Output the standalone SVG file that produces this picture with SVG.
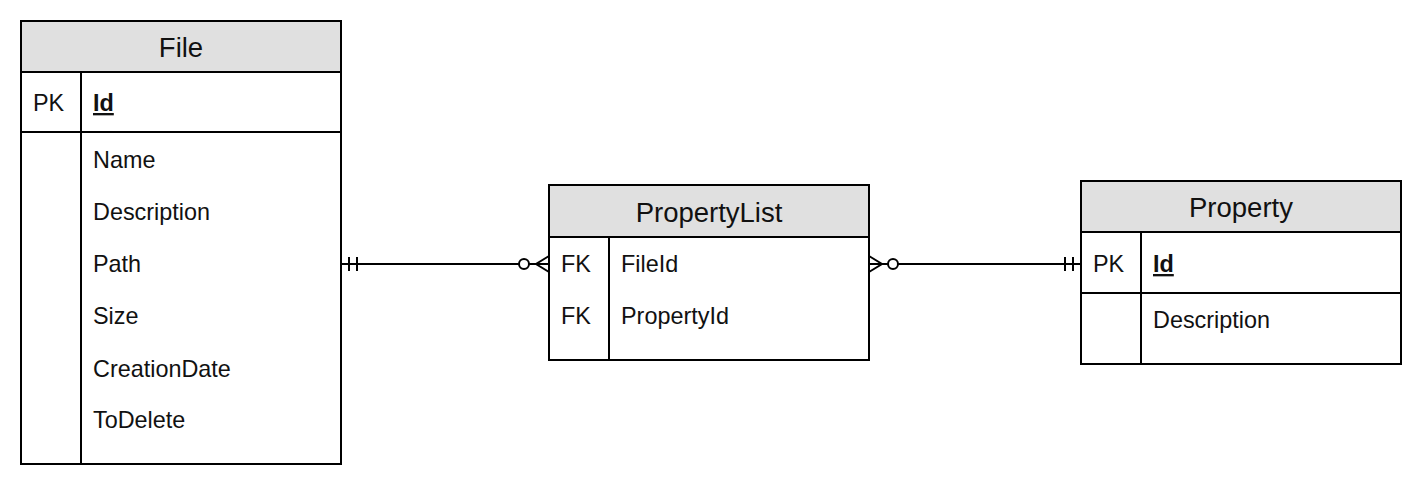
<svg xmlns="http://www.w3.org/2000/svg" width="1422" height="486" viewBox="0 0 1422 486">
<style>
.box{fill:#fff;stroke:#000;stroke-width:2}
.hdr{fill:#e0e0e0;stroke:#000;stroke-width:2}
.ln{stroke:#000;stroke-width:2;fill:none}
.ht{font-family:"Liberation Sans",Arial,sans-serif;font-size:27.5px;fill:#111;text-anchor:middle}
.t{font-family:"Liberation Sans",Arial,sans-serif;font-size:23.4px;fill:#111}
.k{font-weight:bold;text-decoration:underline}
.circ{fill:#fff;stroke:#000;stroke-width:2}
</style>
<rect width="1422" height="486" fill="#fff"/>
<g id="connectors">
  <g id="file-propertylist">
    <line class="ln" x1="341" y1="264" x2="549" y2="264"/>
    <line class="ln" x1="349" y1="257" x2="349" y2="271"/>
    <line class="ln" x1="357" y1="257" x2="357" y2="271"/>
    <circle class="circ" cx="524" cy="264" r="5"/>
    <polyline class="ln" points="549,256 536,264 549,272"/>
  </g>
  <g id="propertylist-property">
    <line class="ln" x1="869" y1="264" x2="1081" y2="264"/>
    <polyline class="ln" points="869,256 882,264 869,272"/>
    <circle class="circ" cx="893" cy="264" r="5"/>
    <line class="ln" x1="1065" y1="257" x2="1065" y2="271"/>
    <line class="ln" x1="1073" y1="257" x2="1073" y2="271"/>
  </g>
</g>
<g id="file">
  <rect class="box" x="21" y="21" width="320" height="443"/>
  <rect class="hdr" x="21" y="21" width="320" height="51"/>
  <line class="ln" x1="21" y1="132" x2="341" y2="132"/>
  <line class="ln" x1="81" y1="72" x2="81" y2="464"/>
  <text class="ht" x="181" y="57">File</text>
  <text class="t" x="33" y="111">PK</text>
  <text class="t k" x="93" y="111">Id</text>
  <text class="t" x="93" y="168">Name</text>
  <text class="t" x="93" y="220">Description</text>
  <text class="t" x="93" y="272">Path</text>
  <text class="t" x="93" y="324">Size</text>
  <text class="t" x="93" y="376.5">CreationDate</text>
  <text class="t" x="93" y="428">ToDelete</text>
</g>
<g id="propertylist">
  <rect class="box" x="549" y="185" width="320" height="175"/>
  <rect class="hdr" x="549" y="185" width="320" height="52"/>
  <line class="ln" x1="609" y1="237" x2="609" y2="360"/>
  <text class="ht" x="709" y="221.5">PropertyList</text>
  <text class="t" x="561" y="272">FK</text>
  <text class="t" x="621" y="272">FileId</text>
  <text class="t" x="561" y="324">FK</text>
  <text class="t" x="621" y="324">PropertyId</text>
</g>
<g id="property">
  <rect class="box" x="1081" y="181" width="320" height="183"/>
  <rect class="hdr" x="1081" y="181" width="320" height="51"/>
  <line class="ln" x1="1081" y1="293" x2="1401" y2="293"/>
  <line class="ln" x1="1141" y1="232" x2="1141" y2="364"/>
  <text class="ht" x="1241" y="217">Property</text>
  <text class="t" x="1093" y="272">PK</text>
  <text class="t k" x="1153" y="272">Id</text>
  <text class="t" x="1153" y="328">Description</text>
</g>
</svg>
